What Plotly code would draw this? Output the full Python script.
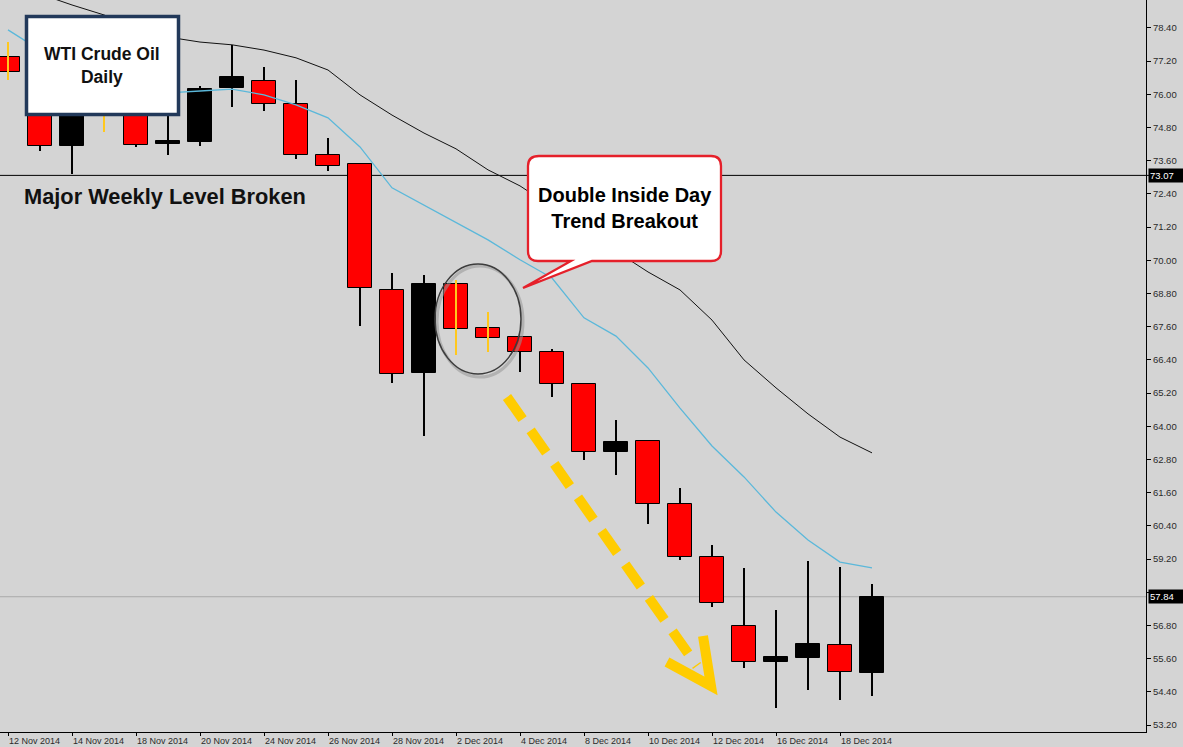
import plotly.graph_objects as go

# ---------------- data ----------------
dates = ["12 Nov 2014", "13 Nov 2014", "14 Nov 2014", "17 Nov 2014", "18 Nov 2014",
         "19 Nov 2014", "20 Nov 2014", "21 Nov 2014", "24 Nov 2014", "25 Nov 2014",
         "26 Nov 2014", "27 Nov 2014", "28 Nov 2014", "1 Dec 2014", "2 Dec 2014",
         "3 Dec 2014", "4 Dec 2014", "5 Dec 2014", "8 Dec 2014", "9 Dec 2014",
         "10 Dec 2014", "11 Dec 2014", "12 Dec 2014", "15 Dec 2014", "16 Dec 2014",
         "17 Dec 2014", "18 Dec 2014", "19 Dec 2014"]
open_ = [77.35, 75.95, 74.13, 75.90, 75.60, 74.21, 74.28, 76.23, 76.48, 75.65,
         73.81, 73.48, 68.93, 65.93, 69.14, 67.55, 67.23, 66.69, 65.53, 63.07,
         63.47, 61.19, 59.27, 56.78, 55.48, 55.62, 56.09, 55.08]
high = [77.89, 76.30, 76.40, 76.20, 75.90, 75.30, 76.30, 77.79, 76.99, 76.52,
        74.42, 73.52, 69.54, 69.47, 69.29, 68.13, 67.25, 66.79, 65.56, 64.23,
        63.50, 61.77, 59.71, 58.88, 57.36, 59.13, 58.91, 58.30]
low = [76.52, 73.95, 73.12, 74.64, 74.10, 73.81, 74.13, 75.54, 75.40, 73.66,
       73.23, 67.63, 65.57, 63.65, 66.58, 66.69, 65.96, 65.06, 62.78, 62.24,
       60.47, 59.17, 57.47, 55.26, 53.82, 54.47, 54.10, 54.25]
close = [76.81, 74.13, 76.00, 75.60, 74.17, 74.31, 76.19, 76.63, 75.65, 73.81,
         73.41, 69.00, 65.89, 69.14, 67.52, 67.19, 66.69, 65.53, 63.07, 63.43,
         61.19, 59.27, 57.61, 55.48, 55.66, 56.13, 55.12, 57.84]
ma_fast = [78.33, 77.60, 77.06, 76.59, 76.23, 76.05, 76.12, 76.19, 75.98, 75.62,
           75.15, 74.10, 72.62, 72.00, 71.39, 70.74, 70.02, 69.36, 67.92, 67.26,
           66.11, 64.66, 63.29, 62.17, 60.90, 59.89, 59.09, 58.88]
ma_slow = [80.00, 79.63, 79.23, 78.87, 78.44, 78.07, 77.89, 77.79, 77.60, 77.32,
           76.88, 75.98, 75.25, 74.60, 74.03, 73.27, 72.69, 71.93, 71.13, 70.33,
           69.58, 68.93, 67.84, 66.40, 65.39, 64.45, 63.61, 63.04]
highlight_bars = [0, 3, 14, 15]
tick_labels = dates[0::2]
level_broken = 73.07
last_price = 57.84

# ---------------- layout constants ----------------
W, H = 1183, 747
PLOT_R, PLOT_B = 1146, 732
BG = "#D4D4D4"


def px(x):
    return x / PLOT_R


def py(y):
    return 1 - y / PLOT_B


def ppath(points_cmds):
    out = []
    for item in points_cmds:
        if isinstance(item, str):
            out.append(item)
        else:
            out.append(f"{px(item[0]):.5f},{py(item[1]):.5f}")
    return " ".join(out)


n = len(dates)
is_up = [c >= o for o, c in zip(open_, close)]
body_base = [min(o, c) for o, c in zip(open_, close)]
body_h = [abs(c - o) for o, c in zip(open_, close)]
body_col = ["#000000" if u else "#FF0000" for u in is_up]

fig = go.Figure()

# wicks
fig.add_trace(go.Bar(x=dates, base=low, y=[h - l for h, l in zip(high, low)],
                     width=0.035, marker=dict(color="#000000", line=dict(width=0)),
                     opacity=1, hoverinfo="skip", showlegend=False))
# bodies
fig.add_trace(go.Bar(x=dates, base=body_base, y=body_h, width=0.78,
                     marker=dict(color=body_col, line=dict(color="#000000", width=1)),
                     opacity=1, hoverinfo="skip", showlegend=False))

# highlighted (yellow) wicks
yx, yy = [], []
for i in highlight_bars:
    yx += [dates[i], dates[i], None]
    yy += [low[i], high[i], None]
fig.add_trace(go.Scatter(x=yx, y=yy, mode="lines", line=dict(color="#FFC81E", width=2),
                         hoverinfo="skip", showlegend=False))

# moving averages
fig.add_trace(go.Scatter(x=dates, y=ma_slow, mode="lines",
                         line=dict(color="#111111", width=1), hoverinfo="skip", showlegend=False))
fig.add_trace(go.Scatter(x=dates, y=ma_fast, mode="lines",
                         line=dict(color="#5BB8DA", width=1.3), hoverinfo="skip", showlegend=False))

shapes = []
# horizontal levels
shapes.append(dict(type="line", xref="paper", yref="y", x0=0, x1=1.003,
                   y0=level_broken, y1=level_broken, layer="below",
                   line=dict(color="#000000", width=1)))
shapes.append(dict(type="line", xref="paper", yref="y", x0=0, x1=1,
                   y0=last_price, y1=last_price, layer="below",
                   line=dict(color="#A9A9A9", width=1)))

# title box
shapes.append(dict(type="rect", xref="paper", yref="paper",
                   x0=px(26.5), x1=px(178.5), y0=py(16.5), y1=py(114.5), layer="above",
                   fillcolor="#FFFFFF", line=dict(color="#22395A", width=3.5)))

# circle highlight (shadow + ring)
shapes.append(dict(type="circle", xref="paper", yref="paper",
                   x0=px(437), x1=px(523), y0=py(266), y1=py(377), layer="above",
                   line=dict(color="rgba(150,150,150,0.55)", width=3)))
shapes.append(dict(type="circle", xref="paper", yref="paper",
                   x0=px(435), x1=px(521), y0=py(264), y1=py(374), layer="above",
                   line=dict(color="#3C3C3C", width=1.5)))

# callout bubble
callout = ppath(["M", (539, 156), "L", (711, 156), "Q", (721, 156), (721, 166),
                 "L", (721, 251), "Q", (721, 261), (711, 261), "L", (592, 261),
                 "L", (523, 288), "L", (571, 261), "L", (538, 261),
                 "Q", (528, 261), (528, 251), "L", (528, 166), "Q", (528, 156), (539, 156), "Z"])
shapes.append(dict(type="path", xref="paper", yref="paper", path=callout, layer="above",
                   fillcolor="#FFFFFF", line=dict(color="#E5202A", width=2.3)))

# yellow dashed arrow
shapes.append(dict(type="line", xref="paper", yref="paper",
                   x0=px(507), y0=py(397), x1=px(697), y1=py(666), layer="above",
                   line=dict(color="#FFCC00", width=10, dash="27px,14px")))
shapes.append(dict(type="path", xref="paper", yref="paper", layer="above",
                   path=ppath(["M", (667, 662), "L", (711, 686), "L", (703, 636)]),
                   line=dict(color="#FFCC00", width=10)))

annotations = [
    dict(xref="paper", yref="paper", x=px(102), y=py(65), xanchor="center", yanchor="middle",
         text="WTI Crude Oil<br>Daily", showarrow=False, align="center",
         font=dict(family="Liberation Sans, Arial, sans-serif", size=17.5, color="#111111", weight="bold")),
    dict(xref="paper", yref="paper", x=px(22), y=py(196), xanchor="left", yanchor="middle",
         text="Major Weekly Level Broken", showarrow=False,
         font=dict(family="Liberation Sans, Arial, sans-serif", size=21.8, color="#111111", weight="bold")),
    dict(xref="paper", yref="paper", x=px(625), y=py(208), xanchor="center", yanchor="middle",
         text="Double Inside Day<br>Trend Breakout", showarrow=False, align="center",
         font=dict(family="Liberation Sans, Arial, sans-serif",
                   size=20, color="#000000", weight="bold")),
    dict(xref="paper", yref="y", x=1, y=level_broken, xanchor="left", yanchor="middle", xshift=2,
         text=f"{level_broken:.2f}", showarrow=False, bgcolor="#000000", borderpad=1,
         width=32, height=11, align="left",
         font=dict(family="Liberation Sans, Arial, sans-serif", size=9.5, color="#FFFFFF")),
    dict(xref="paper", yref="y", x=1, y=last_price, xanchor="left", yanchor="middle", xshift=2,
         text=f"{last_price:.2f}", showarrow=False, bgcolor="#000000", borderpad=1,
         width=32, height=11, align="left",
         font=dict(family="Liberation Sans, Arial, sans-serif", size=9.5, color="#FFFFFF")),
]

fig.update_layout(
    width=W, height=H,
    margin=dict(l=0, r=W - PLOT_R, t=0, b=H - PLOT_B, autoexpand=False),
    paper_bgcolor=BG, plot_bgcolor=BG,
    barmode="overlay", bargap=0, showlegend=False,
    shapes=shapes, annotations=annotations,
    font=dict(family="Liberation Sans, Arial, sans-serif", color="#2A2A2A"),
    xaxis=dict(type="category", range=[-0.25, (PLOT_R - 8) / 32],
               tickmode="array", tickvals=tick_labels, ticktext=tick_labels,
               ticks="outside", ticklen=3, tickcolor="#000000",
               ticklabelposition="outside right",
               showline=True, linecolor="#000000", linewidth=1,
               showgrid=False, zeroline=False, tickfont=dict(size=9), fixedrange=True),
    yaxis=dict(side="right", range=[52.95, 79.41], tick0=53.2, dtick=1.2,
               tickformat=".2f", ticks="outside", ticklen=4, tickcolor="#000000",
               showline=True, linecolor="#000000", linewidth=1,
               showgrid=False, zeroline=False, tickfont=dict(size=9.5), fixedrange=True),
)

fig.write_html("out.html", config={"displayModeBar": False},
               post_script="document.body.style.margin='0px';document.body.style.overflow='hidden';")
